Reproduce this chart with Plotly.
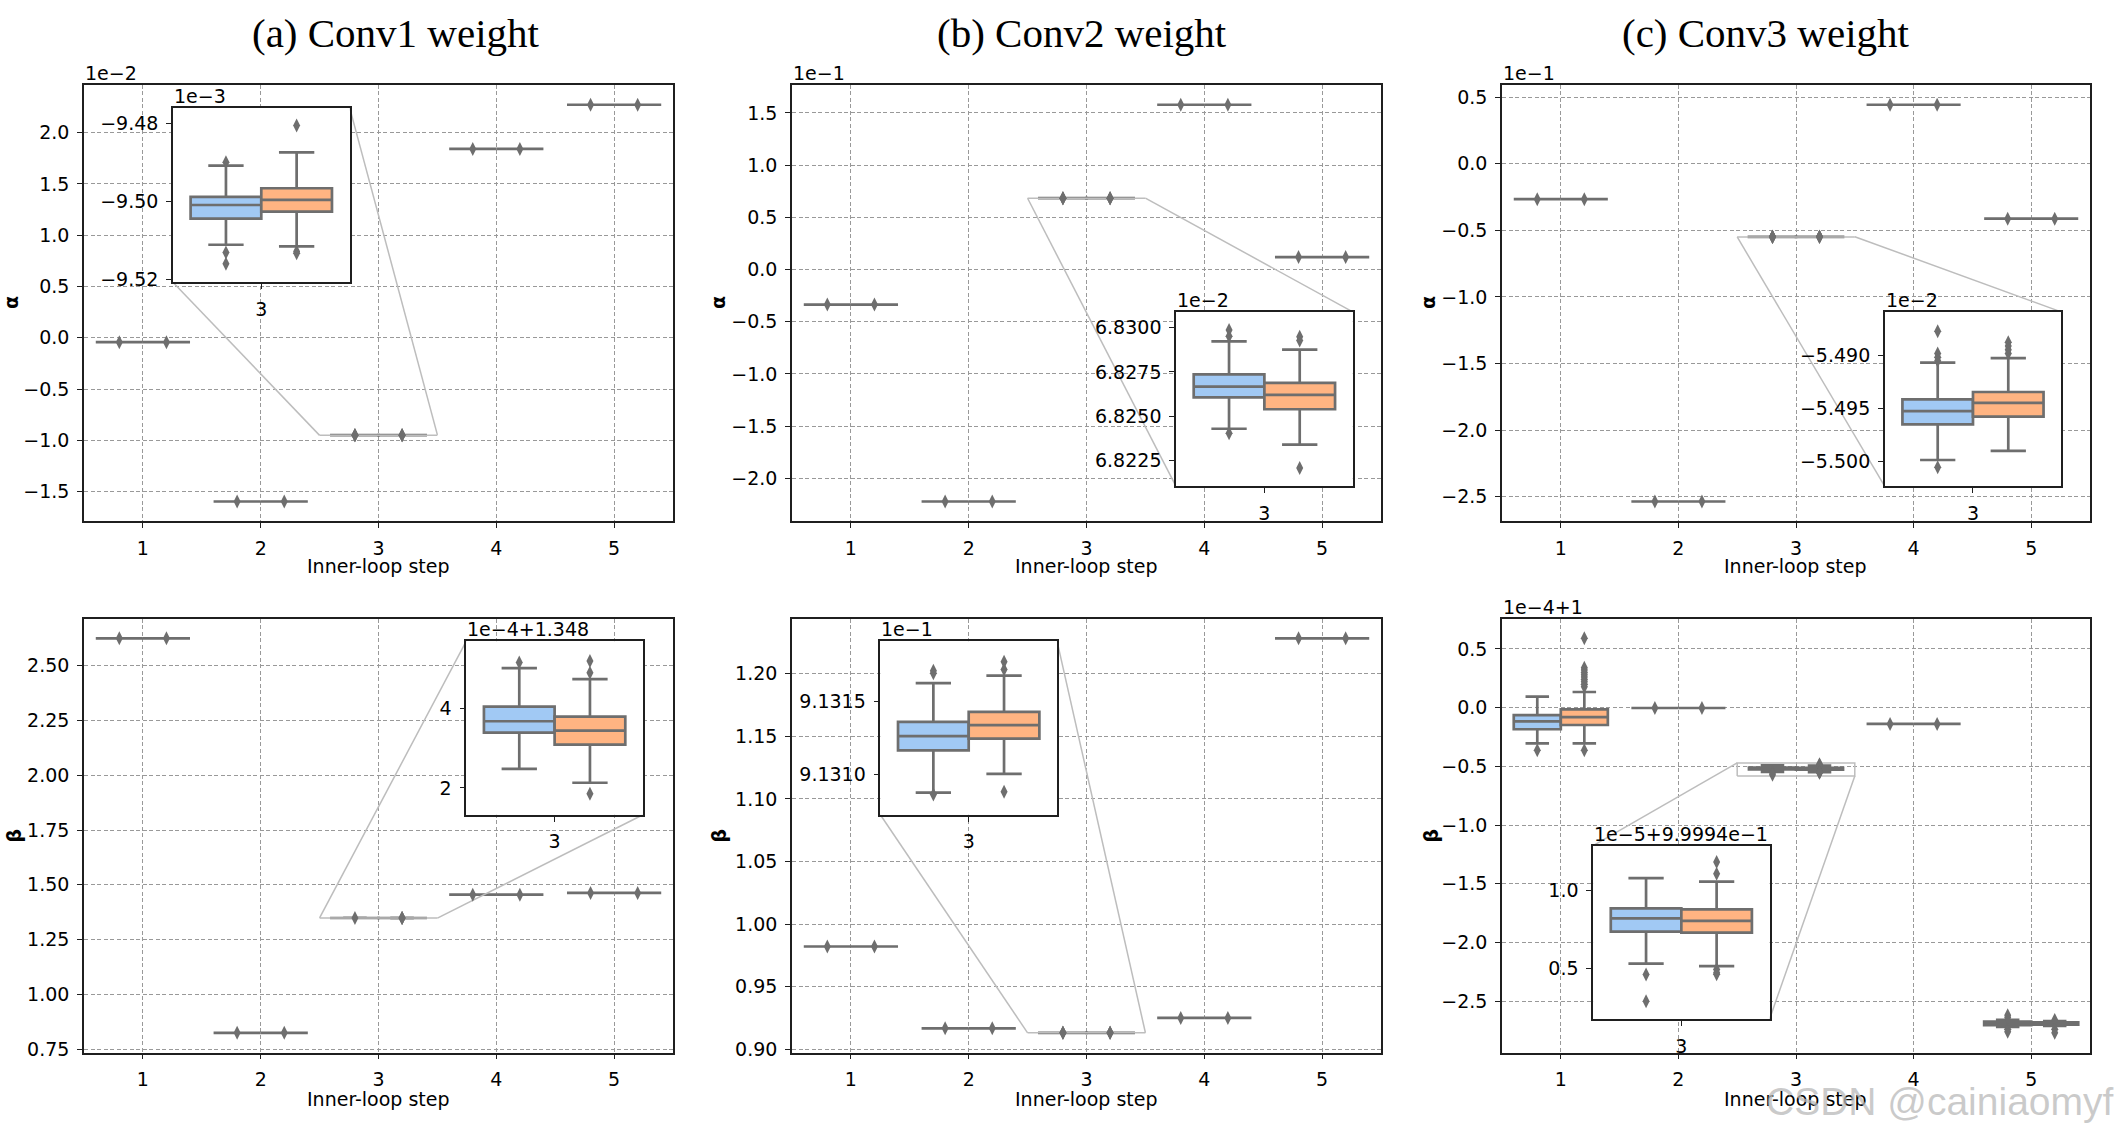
import plotly.graph_objects as go

W, H = 2128, 1142

# ---------------- texts ----------------
panel_titles = ["(a) Conv1 weight", "(b) Conv2 weight", "(c) Conv3 weight"]
x_title = "Inner-loop step"
y_titles = ["α", "α", "α", "β", "β", "β"]
watermark = "CSDN @cainiaomyf"
steps = [1, 2, 3, 4, 5]
step_labels = ["1", "2", "3", "4", "5"]
zoom_step = 3

# shown number -> value = offset + scale * shown
main_offset_text = ["1e−2", "1e−1", "1e−1", "", "", "1e−4+1"]
main_offset = [0.0, 0.0, 0.0, 0.0, 0.0, 1.0]
main_scale = [1e-2, 1e-1, 1e-1, 1.0, 1.0, 1e-4]
inset_offset_text = ["1e−3", "1e−2", "1e−2", "1e−4+1.348", "1e−1", "1e−5+9.9994e−1"]
inset_offset = [0.0, 0.0, 0.0, 1.348, 0.0, 0.99994]
inset_scale = [1e-3, 1e-2, 1e-2, 1e-4, 1e-1, 1e-5]

# ---------------- main plots: (nearly) constant boxes, shown units ----------------
# step 3 comes from the zoomed statistics of each inset
alpha_conv1 = [-0.043, -1.597, None, 1.842, 2.273]
alpha_conv2 = [-0.336, -2.222, None, 1.578, 0.119]
alpha_conv3 = [-0.267, -2.536, None, 0.442, -0.413]
beta_conv1 = [2.625, 0.824, None, 1.455, 1.463]
beta_conv2 = [0.9821, 0.9167, None, 0.925, 1.2283]
beta_conv3 = [None, -0.003, None, -0.139, None]

# box stats: [lower whisker, q1, median, q3, upper whisker]
beta_conv3_step1_blue = [-0.304, -0.184, -0.117, -0.063, 0.093]
beta_conv3_step1_blue_out = [-0.364]
beta_conv3_step1_orange = [-0.304, -0.148, -0.081, -0.015, 0.133]
beta_conv3_step1_orange_out = [-0.364, 0.178, 0.20, 0.22, 0.24, 0.26, 0.28, 0.30, 0.32, 0.34, 0.59]
beta_conv3_step5_blue = [-2.72, -2.705, -2.69, -2.675, -2.66]
beta_conv3_step5_blue_out = [-2.62, -2.64, -2.74, -2.76]
beta_conv3_step5_orange = [-2.71, -2.70, -2.69, -2.68, -2.67]
beta_conv3_step5_orange_out = [-2.66, -2.74, -2.77]

# ---------------- insets (step 3), shown units ----------------
in_a1_blue = [-9.5112, -9.5045, -9.5010, -9.4989, -9.4909]
in_a1_blue_out = [-9.4900, -9.5132, -9.5161]
in_a1_orange = [-9.5116, -9.5027, -9.4997, -9.4967, -9.4875]
in_a1_orange_out = [-9.4806, -9.5129, -9.5134]
in_a1_ylim = [-9.5208, -9.4760]
in_a1_ticks = [-9.52, -9.50, -9.48]
in_a1_ticktext = ["−9.52", "−9.50", "−9.48"]

in_b1_blue = [6.82430, 6.82607, 6.82667, 6.82737, 6.82923]
in_b1_blue_out = [6.82986, 6.82952, 6.82404]
in_b1_orange = [6.82341, 6.82540, 6.82621, 6.82689, 6.82876]
in_b1_orange_out = [6.82948, 6.82928, 6.82209]
in_b1_ylim = [6.82105, 6.83089]
in_b1_ticks = [6.8225, 6.8250, 6.8275, 6.8300]
in_b1_ticktext = ["6.8225", "6.8250", "6.8275", "6.8300"]

in_c1_blue = [-5.49983, -5.49648, -5.49524, -5.49414, -5.49069]
in_c1_blue_out = [-5.48776, -5.48983, -5.49020, -5.49052, -5.50052]
in_c1_orange = [-5.49897, -5.49576, -5.49448, -5.49345, -5.49028]
in_c1_orange_out = [-5.48879, -5.48914, -5.48948, -5.48983]
in_c1_ylim = [-5.50231, -5.48593]
in_c1_ticks = [-5.500, -5.495, -5.490]
in_c1_ticktext = ["−5.500", "−5.495", "−5.490"]

in_a2_blue = [2.48, 3.40, 3.686, 4.054, 5.03]
in_a2_blue_out = [5.17]
in_a2_orange = [2.13, 3.094, 3.45, 3.80, 4.75]
in_a2_orange_out = [5.21, 4.91, 1.85]
in_a2_ylim = [1.32, 5.71]
in_a2_ticks = [2, 4]
in_a2_ticktext = ["2", "4"]

in_b2_blue = [9.130873, 9.131163, 9.131261, 9.131359, 9.131627]
in_b2_blue_out = [9.131712, 9.131695, 9.130859]
in_b2_orange = [9.131002, 9.131244, 9.131337, 9.131429, 9.131678]
in_b2_orange_out = [9.131773, 9.131720, 9.130878]
in_b2_ylim = [9.130720, 9.131915]
in_b2_ticks = [9.1310, 9.1315]
in_b2_ticktext = ["9.1310", "9.1315"]

in_c2_blue = [0.528, 0.735, 0.820, 0.885, 1.080]
in_c2_blue_out = [0.459, 0.286]
in_c2_orange = [0.512, 0.728, 0.804, 0.878, 1.058]
in_c2_orange_out = [1.184, 1.108, 0.49, 0.47, 0.46]
in_c2_ylim = [0.17, 1.29]
in_c2_ticks = [0.5, 1.0]
in_c2_ticktext = ["0.5", "1.0"]

# ---------------- main y ticks ----------------
main_ticks = [
    [-1.5, -1.0, -0.5, 0.0, 0.5, 1.0, 1.5, 2.0],
    [-2.0, -1.5, -1.0, -0.5, 0.0, 0.5, 1.0, 1.5],
    [-2.5, -2.0, -1.5, -1.0, -0.5, 0.0, 0.5],
    [0.75, 1.00, 1.25, 1.50, 1.75, 2.00, 2.25, 2.50],
    [0.90, 0.95, 1.00, 1.05, 1.10, 1.15, 1.20],
    [-2.5, -2.0, -1.5, -1.0, -0.5, 0.0, 0.5],
]
main_ticktext = [
    ["−1.5", "−1.0", "−0.5", "0.0", "0.5", "1.0", "1.5", "2.0"],
    ["−2.0", "−1.5", "−1.0", "−0.5", "0.0", "0.5", "1.0", "1.5"],
    ["−2.5", "−2.0", "−1.5", "−1.0", "−0.5", "0.0", "0.5"],
    ["0.75", "1.00", "1.25", "1.50", "1.75", "2.00", "2.25", "2.50"],
    ["0.90", "0.95", "1.00", "1.05", "1.10", "1.15", "1.20"],
    ["−2.5", "−2.0", "−1.5", "−1.0", "−0.5", "0.0", "0.5"],
]

main_vals = [alpha_conv1, alpha_conv2, alpha_conv3, beta_conv1, beta_conv2, beta_conv3]
extra_stats = {
    (5, 1): (beta_conv3_step1_blue, beta_conv3_step1_blue_out,
             beta_conv3_step1_orange, beta_conv3_step1_orange_out),
    (5, 5): (beta_conv3_step5_blue, beta_conv3_step5_blue_out,
             beta_conv3_step5_orange, beta_conv3_step5_orange_out),
}
insets = [
    (in_a1_blue, in_a1_blue_out, in_a1_orange, in_a1_orange_out, in_a1_ylim, in_a1_ticks, in_a1_ticktext),
    (in_b1_blue, in_b1_blue_out, in_b1_orange, in_b1_orange_out, in_b1_ylim, in_b1_ticks, in_b1_ticktext),
    (in_c1_blue, in_c1_blue_out, in_c1_orange, in_c1_orange_out, in_c1_ylim, in_c1_ticks, in_c1_ticktext),
    (in_a2_blue, in_a2_blue_out, in_a2_orange, in_a2_orange_out, in_a2_ylim, in_a2_ticks, in_a2_ticktext),
    (in_b2_blue, in_b2_blue_out, in_b2_orange, in_b2_orange_out, in_b2_ylim, in_b2_ticks, in_b2_ticktext),
    (in_c2_blue, in_c2_blue_out, in_c2_orange, in_c2_orange_out, in_c2_ylim, in_c2_ticks, in_c2_ticktext),
]

# ---------------- styling / layout ----------------
BLUE = "#a1c9f4"
ORANGE = "#ffb482"
EDGE = "#6e6e6e"
LINK = "#bdbdbd"
FRAME = "#1f1f1f"
GRID = "#999999"
TICKFONT = "DejaVu Sans"
COLS = [(84, 673), (792, 1381), (1502, 2090)]
ROWS = [(85.5, 525), (623, 1060)]
INSET_XY = [(0.151, 0.548), (0.652, 0.080), (0.651, 0.080), (0.649, 0.548), (0.150, 0.548), (0.155, 0.077)]
INSET_W, INSET_H = 0.30, 0.40
MARK = [(1, 3), (1, 3), (1, 3), (2, 4), (1, 3), (2, 4)]
YLAB_X = [11, 718, 1428, 14, 719, 1431]
TITLE_X = [396, 1081.5, 1766]
BOX_W = 0.4
HUE_OFF = 0.2
XRANGE = [0.5, 5.5]
INSET_XRANGE = [2.5, 3.5]


def axname(kind, n):
    return kind + ("" if n == 1 else str(n))


def to_main(p, t):
    v = inset_offset[p] + inset_scale[p] * t
    return (v - main_offset[p]) / main_scale[p]


fig = go.Figure()
layout = dict(width=W, height=H, margin=dict(l=0, r=0, t=0, b=0), autosize=False,
              paper_bgcolor="white", plot_bgcolor="white", showlegend=False,
              boxmode="overlay", annotations=[])
ann = layout["annotations"]


def add_box(xa, ya, xs, stats, color):
    fig.add_trace(go.Box(
        x=xs, lowerfence=[s[0] for s in stats], q1=[s[1] for s in stats],
        median=[s[2] for s in stats], q3=[s[3] for s in stats],
        upperfence=[s[4] for s in stats], width=BOX_W, whiskerwidth=0.5,
        fillcolor=color, line=dict(color=EDGE, width=2.7), boxpoints=False,
        orientation="v", hoverinfo="skip", xaxis=xa, yaxis=ya))


def add_out(xa, ya, xs, ys):
    if not ys:
        return
    fig.add_trace(go.Scatter(
        x=xs, y=ys, mode="markers", hoverinfo="skip", xaxis=xa, yaxis=ya,
        marker=dict(symbol="diamond-tall", size=10, color=EDGE, line=dict(width=0))))


for p in range(6):
    col, row = p % 3, p // 3
    x0p, x1p = COLS[col]
    y0p, y1p = ROWS[row]
    dx = [x0p / W, x1p / W]
    dy = [1 - y1p / H, 1 - y0p / H]
    mi, ii = p + 1, p + 7
    mxa, mya = axname("x", mi), axname("y", mi)
    ixa, iya = axname("x", ii), axname("y", ii)
    blue_in, blue_in_out, orange_in, orange_in_out, ylim_in, ticks_in, ticktext_in = insets[p]

    # ---- collect main box stats ----
    bx, bstats, bo_x, bo_y = [], [], [], []
    ox, ostats, oo_x, oo_y = [], [], [], []
    for k, s in enumerate(steps):
        xb, xo = s - HUE_OFF, s + HUE_OFF
        if s == zoom_step:
            sb = [to_main(p, t) for t in blue_in]
            so = [to_main(p, t) for t in orange_in]
            ob = [to_main(p, t) for t in blue_in_out]
            oo = [to_main(p, t) for t in orange_in_out]
        elif main_vals[p][k] is not None:
            v = main_vals[p][k]
            sb, so, ob, oo = [v] * 5, [v] * 5, [v], [v]
        else:
            sb, ob, so, oo = extra_stats[(p, s)]
        bx.append(xb); bstats.append(sb)
        ox.append(xo); ostats.append(so)
        bo_x += [xb] * len(ob); bo_y += ob
        oo_x += [xo] * len(oo); oo_y += oo

    allv = [v for st in bstats + ostats for v in st] + bo_y + oo_y
    lo, hi = min(allv), max(allv)
    pad = 0.05 * (hi - lo)
    yr = [lo - pad, hi + pad]

    # ---- inset geometry ----
    fx, fy = INSET_XY[p]
    idx = [dx[0] + fx * (dx[1] - dx[0]), dx[0] + (fx + INSET_W) * (dx[1] - dx[0])]
    idy = [dy[0] + fy * (dy[1] - dy[0]), dy[0] + (fy + INSET_H) * (dy[1] - dy[0])]

    # ---- zoom indicator (rectangle + connectors) in main data coords ----
    rlo, rhi = to_main(p, ylim_in[0]), to_main(p, ylim_in[1])
    fig.add_trace(go.Scatter(
        x=[INSET_XRANGE[0], INSET_XRANGE[1], INSET_XRANGE[1], INSET_XRANGE[0], INSET_XRANGE[0]],
        y=[rlo, rlo, rhi, rhi, rlo], mode="lines", line=dict(color=LINK, width=1.5),
        hoverinfo="skip", xaxis=mxa, yaxis=mya))
    ix_l = XRANGE[0] + fx * (XRANGE[1] - XRANGE[0])
    ix_r = XRANGE[0] + (fx + INSET_W) * (XRANGE[1] - XRANGE[0])
    iy_b = yr[0] + fy * (yr[1] - yr[0])
    iy_t = yr[0] + (fy + INSET_H) * (yr[1] - yr[0])
    corner_inset = {1: (ix_r, iy_t), 2: (ix_l, iy_t), 3: (ix_l, iy_b), 4: (ix_r, iy_b)}
    corner_rect = {1: (INSET_XRANGE[1], rhi), 2: (INSET_XRANGE[0], rhi),
                   3: (INSET_XRANGE[0], rlo), 4: (INSET_XRANGE[1], rlo)}
    for c in MARK[p]:
        fig.add_trace(go.Scatter(
            x=[corner_rect[c][0], corner_inset[c][0]], y=[corner_rect[c][1], corner_inset[c][1]],
            mode="lines", line=dict(color=LINK, width=1.5), hoverinfo="skip",
            xaxis=mxa, yaxis=mya))

    # ---- main boxes ----
    add_box(mxa, mya, bx, bstats, BLUE)
    add_box(mxa, mya, ox, ostats, ORANGE)
    add_out(mxa, mya, bo_x, bo_y)
    add_out(mxa, mya, oo_x, oo_y)

    common = dict(showline=True, mirror=True, linecolor=FRAME, linewidth=1.6,
                  ticks="outside", ticklen=5, tickwidth=1.3, tickcolor=FRAME,
                  zeroline=False, tickmode="array", ticklabelstandoff=4,
                  tickfont=dict(family=TICKFONT, size=19, color="black"))
    layout[axname("xaxis", mi)] = dict(
        domain=dx, anchor=mya, range=XRANGE, tickvals=steps, ticktext=step_labels,
        showgrid=True, gridcolor=GRID, gridwidth=1, griddash="4px,2.5px", **common)
    layout[axname("yaxis", mi)] = dict(
        domain=dy, anchor=mxa, range=yr, tickvals=main_ticks[p], ticktext=main_ticktext[p],
        showgrid=True, gridcolor=GRID, gridwidth=1, griddash="4px,2.5px", **common)

    # ---- inset ----
    pos_in = [zoom_step - HUE_OFF]
    add_box(ixa, iya, pos_in, [blue_in], BLUE)
    add_box(ixa, iya, [zoom_step + HUE_OFF], [orange_in], ORANGE)
    add_out(ixa, iya, pos_in * len(blue_in_out), blue_in_out)
    add_out(ixa, iya, [zoom_step + HUE_OFF] * len(orange_in_out), orange_in_out)
    inset_common = dict(common)
    inset_common["linewidth"] = 1.5
    layout[axname("xaxis", ii)] = dict(
        domain=idx, anchor=iya, range=INSET_XRANGE, tickvals=[zoom_step],
        ticktext=[step_labels[steps.index(zoom_step)]], showgrid=False, **inset_common)
    layout[axname("yaxis", ii)] = dict(
        domain=idy, anchor=ixa, range=ylim_in, tickvals=ticks_in, ticktext=ticktext_in,
        showgrid=False, **inset_common)

    # ---- texts ----
    if main_offset_text[p]:
        ann.append(dict(text=main_offset_text[p], x=dx[0], y=dy[1], xref="paper", yref="paper",
                        xanchor="left", yanchor="bottom", showarrow=False, borderpad=0,
                        font=dict(family=TICKFONT, size=19, color="black")))
    ann.append(dict(text=inset_offset_text[p], x=idx[0], y=idy[1], xref="paper", yref="paper",
                    xanchor="left", yanchor="bottom", showarrow=False, borderpad=0,
                    font=dict(family=TICKFONT, size=19, color="black")))
    ann.append(dict(text=x_title, x=(dx[0] + dx[1]) / 2, y=1 - (570 if row == 0 else 1107) / H,
                    xref="paper", yref="paper", xanchor="center", yanchor="middle",
                    showarrow=False, font=dict(family=TICKFONT, size=19, color="black")))
    ann.append(dict(text="<b>" + y_titles[p] + "</b>", x=YLAB_X[p] / W, y=(dy[0] + dy[1]) / 2,
                    xref="paper", yref="paper", xanchor="center", yanchor="middle",
                    textangle=-90, showarrow=False, borderpad=0,
                    font=dict(family=TICKFONT, size=19, color="black")))

for c in range(3):
    ann.append(dict(text=panel_titles[c], x=TITLE_X[c] / W, y=1 - 33 / H, xref="paper", yref="paper",
                    xanchor="center", yanchor="middle", showarrow=False,
                    font=dict(family="Liberation Serif", size=41, color="black")))

ann.append(dict(text=watermark, x=1764 / W, y=1 - 1109 / H, xref="paper", yref="paper",
                xanchor="left", yanchor="middle", showarrow=False,
                font=dict(family="Liberation Sans", size=39, color="rgba(185,185,185,0.75)")))

fig.update_layout(**layout)
fig.write_html("out.html", config={"displayModeBar": False},
               post_script="document.body.style.margin='0';")
